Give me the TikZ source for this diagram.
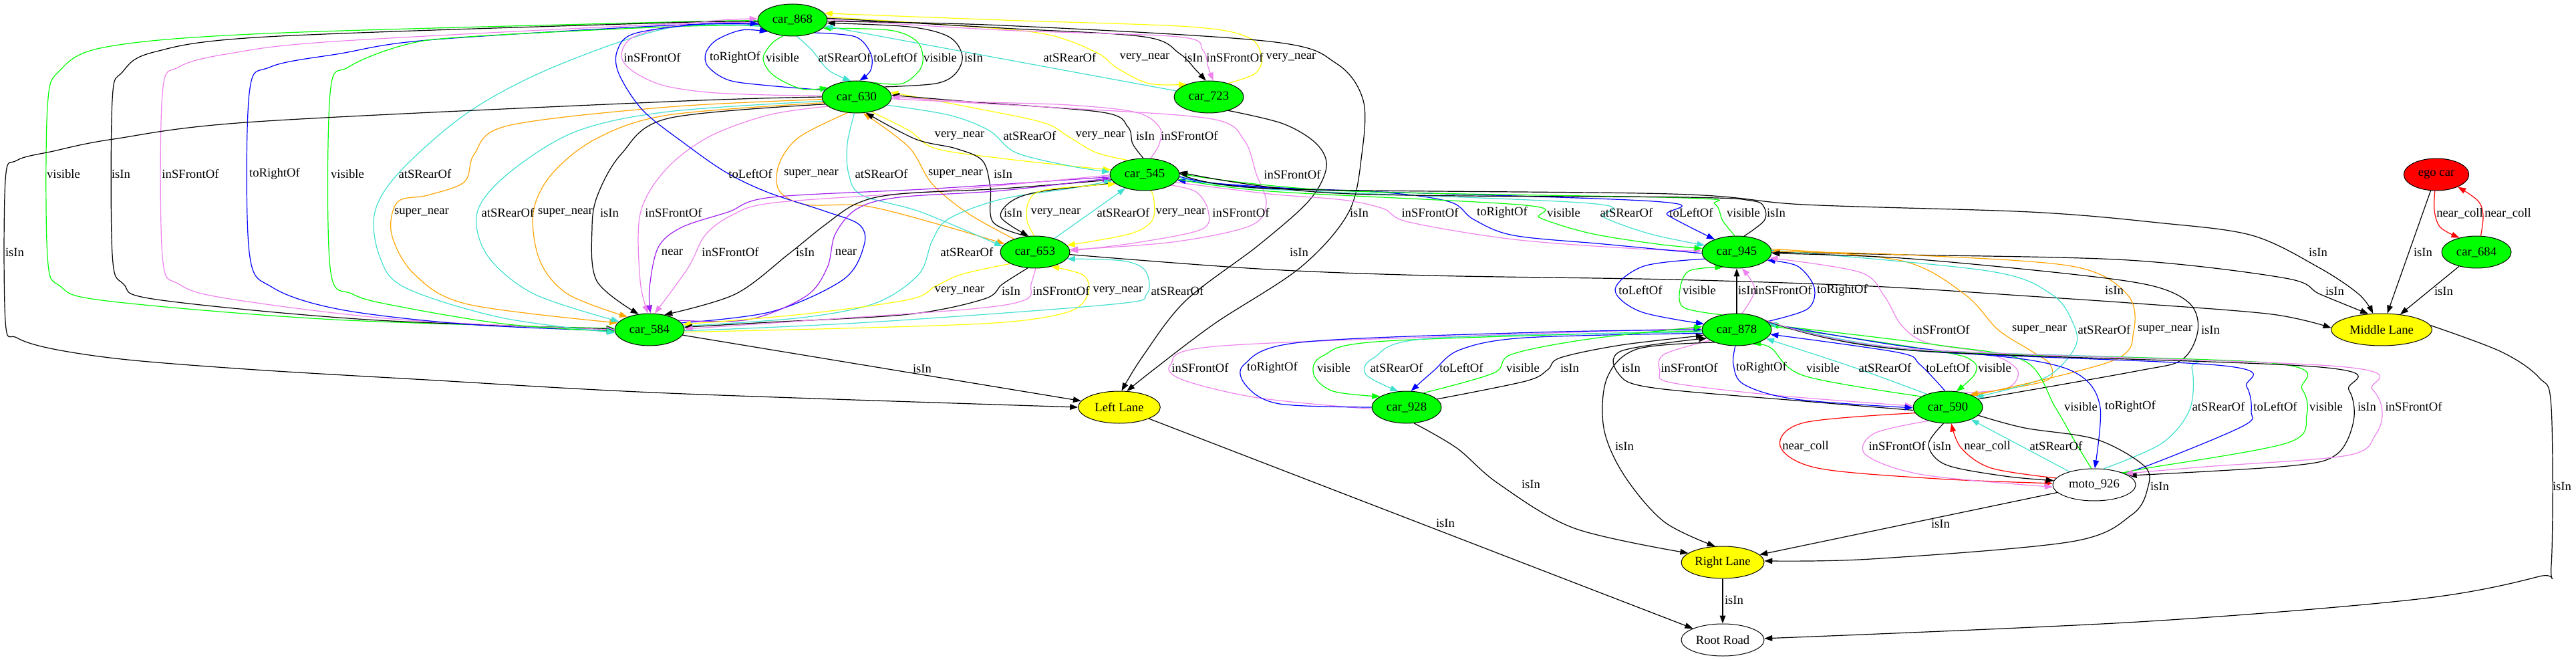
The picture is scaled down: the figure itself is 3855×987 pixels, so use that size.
\documentclass[tikz,border=0pt]{standalone}
\usepackage{fontspec}
\setmainfont{Liberation Serif}
\usetikzlibrary{arrows.meta,shapes.geometric}
\definecolor{cgreen}{HTML}{00FF00}
\definecolor{cviolet}{HTML}{EE82EE}
\definecolor{cblue}{HTML}{0000FF}
\definecolor{cturq}{HTML}{40E0D0}
\definecolor{cyellow}{HTML}{FFFF00}
\definecolor{corange}{HTML}{FFA500}
\definecolor{cpurple}{HTML}{A020F0}
\definecolor{cred}{HTML}{FF0000}
\pgfdeclarelayer{bg}
\pgfdeclarelayer{edges}
\pgfsetlayers{bg,edges,main}
\newcommand{\edgeP}[2]{\draw[#1] plot[smooth,tension=0.55] coordinates {#2};}
\tikzset{
 nd/.style={ellipse, draw=black, line width=0.75pt, inner sep=0pt, minimum height=36pt, font=\fontsize{14}{16}\selectfont},
 car/.style={nd, fill=cgreen, minimum width=78pt},
 lane/.style={nd, fill=cyellow},
 lbl/.style={inner sep=0pt, font=\fontsize{14}{16}\selectfont},
 edg/.style={line width=0.9pt, -{Triangle[length=9pt,width=6.5pt]}},
 vis/.style={edg, draw=cgreen},
 isin/.style={edg, draw=black},
 insf/.style={edg, draw=cviolet},
 torr/.style={edg, draw=cblue},
 tol/.style={edg, draw=cblue},
 atsr/.style={edg, draw=cturq},
 vnear/.style={edg, draw=cyellow},
 snear/.style={edg, draw=corange},
 nr/.style={edg, draw=cpurple},
 ncoll/.style={edg, draw=cred}
}
\begin{document}
\begin{tikzpicture}[x=0.75pt,y=-0.75pt]
\useasboundingbox (0,0) rectangle (3855,987);
\begin{pgfonlayer}{bg}
\fill[white] (0,0) rectangle (3855,987);
\end{pgfonlayer}
% nodes
\node[car] (n868) at (1186,30) {car\_868};
\node[car] (n630) at (1282,145) {car\_630};
\node[car] (n723) at (1809,145) {car\_723};
\node[car] (n545) at (1713,261) {car\_545};
\node[car] (n653) at (1549,377) {car\_653};
\node[car] (n584) at (972,493) {car\_584};
\node[car] (n945) at (2599,377) {car\_945};
\node[car] (n878) at (2599,493) {car\_878};
\node[car] (n928) at (2105,609) {car\_928};
\node[car] (n590) at (2915,609) {car\_590};
\node[nd, fill=white, minimum width=93pt] (nmoto) at (3134,725) {moto\_926};
\node[lane, minimum width=92pt] (nLL) at (1675,609) {Left Lane};
\node[lane, minimum width=93pt] (nRL) at (2578,841) {Right Lane};
\node[nd, fill=white, minimum width=93pt] (nRR) at (2578,957) {Root Road};
\node[lane, minimum width=113pt] (nML) at (3564,493) {Middle Lane};
\node[nd, fill=cred, minimum width=73pt] (nego) at (3646,261) {ego car};
\node[car] (n684) at (3706,377) {car\_684};

\begin{pgfonlayer}{edges}
% car_868 -> car_584 (left loops)
\edgeP{vis}{(n868.181) (1000,33) (400,50) (160,70) (90,105) (71,160) (71,383) (90,428) (160,450) (500,478) (n584.178)}
\edgeP{isin}{(n868.183) (1000,34) (400,55) (230,78) (183,108) (168,150) (168,380) (185,425) (235,448) (550,478) (n584.179)}
\edgeP{insf}{(n868.185) (1000,36) (500,62) (344,80) (268,100) (243,140) (243,383) (268,425) (344,447) (600,478) (n584.180)}
\edgeP{torr}{(n868.187) (1000,38) (640,60) (510,80) (405,100) (373,140) (373,377) (408,430) (510,463) (700,485) (n584.182)}
\edgeP{vis}{(n868.189) (1000,40) (700,55) (606,67) (522,100) (494,140) (494,400) (528,440) (606,460) (760,485) (n584.183)}
\edgeP{atsr}{(n868.191) (1000,42) (829,100) (702,167) (600,255) (561,317) (568,383) (606,430) (750,475) (n584.185)}
\edgeP{isin}{(n630.180) (1000,152) (383,182) (170,208) (80,226) (25,240) (8,270) (8,480) (25,505) (80,522) (191,538) (383,553) (638,568) (1000,588) (nLL.180)}
% car_868 <-> car_630
\edgeP{insf}{(n630.178) (1150,142) (1059,138) (990,127) (945,105) (930,83) (945,57) (1000,40) (1080,30) (n868.178)}
\edgeP{torr}{(n630.168) (1150,128) (1091,120) (1060,100) (1056,80) (1072,60) (1110,45) (n868.205)}
\edgeP{vis}{(n868.240) (1155,65) (1142,88) (1158,113) (1200,133) (n630.162)}
\edgeP{atsr}{(n868.285) (1215,75) (1240,105) (n630.110)}
\edgeP{tol}{(n868.330) (1280,55) (1303,80) (1303,105) (n630.80)}
\edgeP{vis}{(n630.40) (1350,125) (1376,105) (1381,83) (1370,60) (1330,45) (n868.345)}
\edgeP{isin}{(n630.20) (1400,125) (1430,110) (1440,83) (1420,55) (1360,40) (n868.355)}
% car_868 <-> car_723
\draw[atsr] (n723) -- (n868);
\edgeP{vnear}{(n868.5) (1400,36) (1559,50) (1640,78) (1672,102) (1720,125) (n723.150)}
\edgeP{isin}{(n868.3) (1500,42) (1712,55) (1765,80) (1790,105) (n723.100)}
\edgeP{insf}{(n868.1) (1500,45) (1763,55) (1800,75) (1808,100) (n723.75)}
\edgeP{vnear}{(n723.35) (1878,110) (1888,86) (1868,56) (1780,40) (1500,30) (n868.12)}
% to Left Lane from top
\edgeP{isin}{(n868.358) (1500,38) (1900,62) (2000,95) (2040,150) (2038,230) (2018,318) (1946,400) (1819,483) (1730,550) (nLL.65)}
\edgeP{isin}{(n723.325) (1920,185) (1970,215) (1985,250) (1959,300) (1883,367) (1774,450) (1710,533) (nLL.82)}
% car_630 <-> car_545
\edgeP{vnear}{(n630.315) (1360,195) (1400,222) (1500,237) (1620,250) (n545.172)}
\edgeP{atsr}{(n630.345) (1420,172) (1480,195) (1520,228) (1600,248) (n545.176)}
\edgeP{vnear}{(n545.140) (1640,228) (1600,205) (1560,183) (1450,160) (n630.8)}
\edgeP{isin}{(n545.95) (1695,215) (1688,190) (1650,168) (1450,152) (n630.3)}
\edgeP{insf}{(n545.70) (1735,215) (1735,190) (1700,168) (1600,157) (1450,152) (n630.0)}
\edgeP{insf}{(n630.357) (1600,162) (1814,178) (1862,210) (1880,260) (1895,305) (1870,338) (1755,362) (n653.4)}
% car_630 <-> car_653
\edgeP{snear}{(n630.240) (1196,205) (1166,245) (1166,285) (1206,306) (1295,308) (1410,337) (n653.165)}
\edgeP{atsr}{(n630.262) (1268,215) (1270,260) (1290,292) (1378,317) (n653.170)}
\edgeP{snear}{(n653.148) (1450,320) (1395,275) (1360,220) (n630.292)}
\edgeP{isin}{(n653.118) (1486,332) (1482,280) (1470,240) (1430,222) (1370,208) (n630.300)}
% car_630 -> car_584
\edgeP{snear}{(n630.184) (1000,160) (760,188) (710,230) (695,272) (640,292) (595,302) (586,350) (620,410) (700,455) (n584.168)}
\edgeP{atsr}{(n630.187) (1000,167) (861,197) (760,260) (714,318) (730,383) (800,440) (n584.165)}
\edgeP{snear}{(n630.190) (1000,172) (893,207) (826,260) (798,318) (808,390) (850,440) (n584.150)}
\edgeP{isin}{(n630.193) (1000,177) (930,230) (895,290) (886,340) (893,420) (n584.125)}
\edgeP{insf}{(n630.198) (1150,172) (1060,205) (995,255) (958,320) (958,420) (n584.95)}
\edgeP{tol}{(n584.12) (1155,466) (1262,418) (1293,367) (1286,336) (1235,316) (1150,288) (1087,258) (1025,215) (962,165) (926,110) (924,75) (950,50) (1050,36) (n868.186)}
% car_545 <-> car_584
\edgeP{nr}{(n545.184) (1400,282) (1155,295) (1090,317) (1020,340) (985,370) (972,430) (n584.87)}
\edgeP{insf}{(n545.181) (1400,286) (1160,303) (1095,322) (1055,352) (1030,400) (n584.72)}
\edgeP{isin}{(n545.189) (1500,282) (1346,290) (1283,304) (1235,336) (1180,380) (1100,440) (n584.45)}
\edgeP{nr}{(n584.18) (1120,478) (1206,443) (1238,400) (1250,350) (1283,312) (1346,295) (1500,285) (n545.186)}
\edgeP{atsr}{(n584.6) (1200,475) (1311,453) (1375,410) (1395,360) (1420,327) (1498,298) (1600,282) (n545.191)}
% car_653 <-> car_584
\edgeP{vnear}{(n653.205) (1440,410) (1400,428) (1360,448) (1200,470) (n584.9)}
\edgeP{isin}{(n653.245) (1500,425) (1473,447) (1360,470) (1150,482) (n584.4)}
\edgeP{insf}{(n653.272) (1543,425) (1535,448) (1454,462) (1200,480) (n584.1)}
\edgeP{vnear}{(n584.356) (1300,490) (1502,482) (1600,466) (1628,440) (1622,412) (n653.318)}
\edgeP{atsr}{(n584.358) (1300,482) (1665,455) (1716,440) (1714,405) (1680,390) (n653.348)}
% car_545 <-> car_653
\edgeP{isin}{(n545.196) (1560,286) (1515,300) (1498,325) (n653.112)}
\edgeP{vnear}{(n653.93) (1537,330) (1540,300) (1565,284) (n545.198)}
\draw[atsr] (n653) -- (n545);
\edgeP{vnear}{(n545.292) (1727,300) (1724,330) (1690,350) (n653.12)}
\edgeP{insf}{(n545.338) (1790,287) (1808,315) (1798,343) (1700,363) (n653.2)}
% car_545 <-> car_945
\edgeP{insf}{(n545.346) (1900,290) (2010,299) (2070,312) (2108,332) (2265,358) (2450,372) (n945.178)}
\edgeP{torr}{(n945.182) (2400,365) (2265,352) (2205,328) (2170,302) (2074,288) (1900,280) (n545.350)}
\edgeP{vis}{(n545.352) (1900,286) (2283,307) (2305,326) (2380,349) (2480,365) (n945.174)}
\edgeP{atsr}{(n545.355) (1900,283) (2378,304) (2400,325) (2470,350) (n945.168)}
\edgeP{tol}{(n545.357) (1900,281) (2474,301) (2496,322) (n945.150)}
\edgeP{vis}{(n945.97) (2578,330) (2566,305) (2522,296) (2000,285) (n545.1)}
\edgeP{isin}{(n945.65) (2640,330) (2640,310) (2620,300) (2522,295) (2000,289) (n545.4)}
% to Middle Lane
\edgeP{isin}{(n545.2) (1900,282) (2500,290) (2700,306) (3038,317) (3229,333) (3370,352) (3470,400) (3530,440) (nML.118)}
\edgeP{isin}{(n945.0) (2850,381) (3185,389) (3420,416) (3472,440) (nML.130)}
\edgeP{isin}{(n653.356) (1883,402) (2138,412) (2500,418) (2800,428) (3038,443) (3200,454) (3400,470) (nML.178)}
% car_945 <-> car_878
\edgeP{tol}{(n945.192) (2460,398) (2417,433) (2455,466) (n878.170)}
\edgeP{vis}{(n878.135) (2520,460) (2514,433) (2528,405) (n945.228)}
\draw[isin] (n878) -- (n945);
\edgeP{insf}{(n878.72) (2626,433) (n945.288)}
\edgeP{torr}{(n878.15) (2705,462) (2715,430) (2690,398) (n945.345)}
% car_945 <-> car_590
\edgeP{insf}{(n590.40) (3005,580) (3019,553) (2975,528) (2885,513) (2846,487) (2820,443) (2783,407) (n945.350)}
\edgeP{snear}{(n945.5) (2846,390) (2940,440) (2990,493) (3040,525) (3068,545) (3060,570) (n590.30)}
\edgeP{atsr}{(n945.3) (2974,405) (3070,440) (3103,485) (3105,520) (3060,565) (n590.20)}
\edgeP{snear}{(n590.25) (3160,540) (3193,495) (3183,440) (3100,398) (2850,381) (n945.1)}
\edgeP{isin}{(n590.15) (3197,555) (3265,538) (3289,495) (3278,455) (3223,428) (3100,410) (2846,386) (n945.358)}
% car_878 <-> car_928
\edgeP{insf}{(n928.183) (1883,595) (1770,568) (1752,545) (1819,518) (2265,500) (n878.178)}
\edgeP{torr}{(n928.180) (1915,604) (1866,578) (1862,545) (1946,512) (2300,497) (n878.180)}
\edgeP{vis}{(n878.182) (2074,510) (1980,532) (1966,560) (1995,585) (n928.158)}
\edgeP{atsr}{(n878.184) (2140,506) (2056,535) (2044,560) (n928.118)}
\edgeP{tol}{(n878.186) (2283,505) (2185,523) (2145,555) (n928.75)}
\edgeP{vis}{(n928.40) (2235,558) (2262,530) (2378,507) (n878.175)}
\edgeP{isin}{(n928.15) (2283,570) (2316,553) (2335,535) (2426,516) (n878.190)}
% car_878 <-> car_590
\edgeP{isin}{(n590.185) (2700,600) (2474,580) (2423,560) (2426,525) (n878.196)}
\edgeP{insf}{(n878.202) (2490,530) (2484,555) (2500,572) (2655,591) (n590.178)}
\edgeP{torr}{(n878.265) (2594,545) (2610,575) (2687,597) (n590.181)}
\edgeP{vis}{(n590.158) (2700,562) (2650,520) (n878.318)}
\edgeP{atsr}{(n590.148) (2776,550) (n878.343)}
\edgeP{tol}{(n590.100) (2873,545) (2840,527) (n878.352)}
\edgeP{vis}{(n878.6) (2900,525) (2952,540) (2955,560) (n590.62)}
% car_878 <-> moto_926
\edgeP{vis}{(nmoto.100) (3105,660) (3075,608) (3030,540) (2900,516) (n878.8)}
\edgeP{torr}{(n878.10) (2850,518) (3041,539) (3115,563) (3143,610) (nmoto.88)}
\edgeP{atsr}{(nmoto.60) (3235,663) (3277,612) (3280,550) (3255,537) (2850,521) (n878.12)}
\edgeP{tol}{(n878.14) (2850,523) (3328,547) (3362,578) (3369,615) (3355,638) (3204,700) (nmoto.30)}
\edgeP{vis}{(n878.16) (2850,523) (3400,543) (3445,582) (3452,620) (3424,662) (3214,700) (nmoto.25)}
\edgeP{isin}{(n878.18) (2850,523) (3472,549) (3515,583) (3522,630) (3496,680) (3424,697) (nmoto.15)}
\edgeP{insf}{(n878.20) (2850,521) (3500,548) (3550,582) (3565,615) (3555,650) (3513,681) (3300,698) (nmoto.20)}
% car_590 <-> moto_926
\edgeP{ncoll}{(n590.190) (2700,632) (2664,667) (2720,700) (2900,716) (nmoto.178)}
\edgeP{insf}{(n590.215) (2805,648) (2792,680) (2878,710) (nmoto.183)}
\edgeP{isin}{(n590.255) (2886,665) (2912,695) (3000,712) (nmoto.174)}
\edgeP{ncoll}{(nmoto.170) (2980,700) (2935,670) (n590.282)}
\draw[atsr] (nmoto) -- (n590);
% lanes
\draw[isin] (n584) -- (nLL);
\draw[isin] (nLL) -- (nRR);
\edgeP{isin}{(n928.295) (2180,670) (2242,723) (2356,790) (nRL.165)}
\edgeP{isin}{(n878.210) (2450,522) (2405,565) (2400,640) (2430,710) (2490,780) (nRL.115)}
\edgeP{isin}{(n590.345) (3030,640) (3137,657) (3209,697) (3214,730) (3190,770) (3100,810) (2800,836) (nRL.2)}
\draw[isin] (nmoto) -- (nRL);
\draw[isin] (nRL) -- (nRR);
\edgeP{isin}{(nML.5) (3743,526) (3800,565) (3818,610) (3818,845) (3800,862) (3618,896) (3200,930) (nRR.2)}
\draw[isin] (nego) -- (nML);
\draw[isin] (n684) -- (nML);
\edgeP{ncoll}{(nego.265) (3643,315) (3652,340) (n684.140)}
\edgeP{ncoll}{(n684.75) (3716,322) (3708,300) (nego.330)}
\end{pgfonlayer}

% labels
\node[lbl] (l1) at (95,260) {visible};
\node[lbl] (l2) at (181,260) {isIn};
\node[lbl] (l3) at (285,260) {inSFrontOf};
\node[lbl] (l4) at (411,260) {toRightOf};
\node[lbl] (l5) at (520,260) {visible};
\node[lbl] (l6) at (636,260) {atSRearOf};
\node[lbl] (l7) at (22,377) {isIn};
\node[lbl] (l8) at (976,86) {inSFrontOf};
\node[lbl] (l9) at (1100,86) {toRightOf};
\node[lbl] (l10) at (1171,86) {visible};
\node[lbl] (l11) at (1264,86) {atSRearOf};
\node[lbl] (l12) at (1340,86) {toLeftOf};
\node[lbl] (l13) at (1407,86) {visible};
\node[lbl] (l14) at (1457,86) {isIn};
\node[lbl] (l15) at (1601,86) {atSRearOf};
\node[lbl] (l16) at (1713,86) {very\_near};
\node[lbl] (l17) at (1786,86) {isIn};
\node[lbl] (l18) at (1848,86) {inSFrontOf};
\node[lbl] (l19) at (1932,86) {very\_near};
\node[lbl] (l20) at (2034,318) {isIn};
\node[lbl] (l21) at (1436,203) {very\_near};
\node[lbl] (l22) at (1541,203) {atSRearOf};
\node[lbl] (l23) at (1647,203) {very\_near};
\node[lbl] (l24) at (1714,203) {isIn};
\node[lbl] (l25) at (1780,203) {inSFrontOf};
\node[lbl] (l26) at (1934,261) {inSFrontOf};
\node[lbl] (l27) at (1214,260) {super\_near};
\node[lbl] (l28) at (1319,260) {atSRearOf};
\node[lbl] (l29) at (1430,260) {super\_near};
\node[lbl] (l30) at (1501,260) {isIn};
\node[lbl] (l31) at (631,318) {super\_near};
\node[lbl] (l32) at (760,318) {atSRearOf};
\node[lbl] (l33) at (846,318) {super\_near};
\node[lbl] (l34) at (912,318) {isIn};
\node[lbl] (l35) at (1008,318) {inSFrontOf};
\node[lbl] (l36) at (1123,260) {toLeftOf};
\node[lbl] (l37) at (1006,377) {near};
\node[lbl] (l38) at (1093,377) {inSFrontOf};
\node[lbl] (l39) at (1205,377) {isIn};
\node[lbl] (l40) at (1266,377) {near};
\node[lbl] (l41) at (1447,377) {atSRearOf};
\node[lbl] (l42) at (1436,435) {very\_near};
\node[lbl] (l43) at (1513,435) {isIn};
\node[lbl] (l44) at (1588,435) {inSFrontOf};
\node[lbl] (l45) at (1673,435) {very\_near};
\node[lbl] (l46) at (1762,435) {atSRearOf};
\node[lbl] (l47) at (1516,318) {isIn};
\node[lbl] (l48) at (1580,318) {very\_near};
\node[lbl] (l49) at (1681,318) {atSRearOf};
\node[lbl] (l50) at (1767,318) {very\_near};
\node[lbl] (l51) at (1857,318) {inSFrontOf};
\node[lbl] (l52) at (2140,318) {inSFrontOf};
\node[lbl] (l53) at (2248,318) {toRightOf};
\node[lbl] (l54) at (2340,318) {visible};
\node[lbl] (l55) at (2434,318) {atSRearOf};
\node[lbl] (l56) at (2531,318) {toLeftOf};
\node[lbl] (l57) at (2609,318) {visible};
\node[lbl] (l58) at (2658,318) {isIn};
\node[lbl] (l59) at (3469,377) {isIn};
\node[lbl] (l60) at (3494,435) {isIn};
\node[lbl] (l61) at (3164,434) {isIn};
\node[lbl] (l62) at (2455,434) {toLeftOf};
\node[lbl] (l63) at (2543,434) {visible};
\node[lbl] (l64) at (2615,434) {isIn};
\node[lbl] (l65) at (2669,434) {inSFrontOf};
\node[lbl] (l66) at (2757,434) {toRightOf};
\node[lbl] (l67) at (2905,493) {inSFrontOf};
\node[lbl] (l68) at (3052,493) {super\_near};
\node[lbl] (l69) at (3149,493) {atSRearOf};
\node[lbl] (l70) at (3240,493) {super\_near};
\node[lbl] (l71) at (3308,493) {isIn};
\node[lbl] (l72) at (1796,550) {inSFrontOf};
\node[lbl] (l73) at (1904,550) {toRightOf};
\node[lbl] (l74) at (1996,550) {visible};
\node[lbl] (l75) at (2090,550) {atSRearOf};
\node[lbl] (l76) at (2187,550) {toLeftOf};
\node[lbl] (l77) at (2279,550) {visible};
\node[lbl] (l78) at (2349,550) {isIn};
\node[lbl] (l79) at (2441,550) {isIn};
\node[lbl] (l80) at (2528,550) {inSFrontOf};
\node[lbl] (l81) at (2636,550) {toRightOf};
\node[lbl] (l82) at (2728,550) {visible};
\node[lbl] (l83) at (2821,550) {atSRearOf};
\node[lbl] (l84) at (2915,550) {toLeftOf};
\node[lbl] (l85) at (2985,550) {visible};
\node[lbl] (l86) at (3114,608) {visible};
\node[lbl] (l87) at (3188,608) {toRightOf};
\node[lbl] (l88) at (3320,608) {atSRearOf};
\node[lbl] (l89) at (3405,608) {toLeftOf};
\node[lbl] (l90) at (3481,608) {visible};
\node[lbl] (l91) at (3542,608) {isIn};
\node[lbl] (l92) at (3612,608) {inSFrontOf};
\node[lbl] (l93) at (2702,667) {near\_coll};
\node[lbl] (l94) at (2839,667) {inSFrontOf};
\node[lbl] (l95) at (2906,667) {isIn};
\node[lbl] (l96) at (2974,667) {near\_coll};
\node[lbl] (l97) at (3077,667) {atSRearOf};
\node[lbl] (l98) at (1380,551) {isIn};
\node[lbl] (l100) at (1944,377) {isIn};
\node[lbl] (l102) at (2163,782) {isIn};
\node[lbl] (l103) at (2291,724) {isIn};
\node[lbl] (l104) at (2431,667) {isIn};
\node[lbl] (l105) at (3232,727) {isIn};
\node[lbl] (l106) at (2904,783) {isIn};
\node[lbl] (l107) at (2595,897) {isIn};
\node[lbl] (l108) at (3834,727) {isIn};
\node[lbl] (l109) at (3626,377) {isIn};
\node[lbl] (l110) at (3657,435) {isIn};
\node[lbl] (l111) at (3681,319) {near\_coll};
\node[lbl] (l112) at (3753,319) {near\_coll};
\end{tikzpicture}
\end{document}
